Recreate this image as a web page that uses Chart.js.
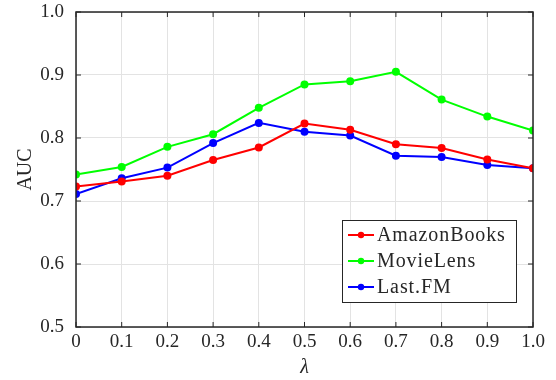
<!DOCTYPE html>
<html>
<head>
<meta charset="utf-8">
<script src="https://cdn.jsdelivr.net/npm/chart.js@4"></script>
<style>
  html, body { margin: 0; padding: 0; background: #fff; }
  #wrap { width: 556px; height: 380px; position: relative; }
</style>
</head>
<body>
<div id="wrap"><canvas id="c"></canvas></div>
<script>
const lambdas = [0, 0.1, 0.2, 0.3, 0.4, 0.5, 0.6, 0.7, 0.8, 0.9, 1.0];
const amazonBooks = [0.723, 0.731, 0.740, 0.765, 0.785, 0.823, 0.813, 0.790, 0.784, 0.766, 0.752];
const movieLens   = [0.742, 0.754, 0.786, 0.806, 0.848, 0.885, 0.890, 0.905, 0.861, 0.834, 0.812];
const lastFM      = [0.711, 0.736, 0.753, 0.792, 0.824, 0.810, 0.804, 0.772, 0.770, 0.757, 0.752];
const seriesNames = ["AmazonBooks", "MovieLens", "Last.FM"];
const seriesColors = ["#ff0000", "#00ff00", "#0000ff"];

const FONT = "'Liberation Serif', 'DejaVu Serif', serif";

function toPoints(vals) {
  return vals.map((v, i) => ({ x: lambdas[i], y: v }));
}

// box with inward ticks on all four sides
const frame = {
  id: "frame",
  afterDraw(chart) {
    const { ctx, chartArea: a, scales } = chart;
    ctx.save();
    ctx.strokeStyle = "#262626";
    ctx.lineWidth = 1.5;
    ctx.strokeRect(a.left, a.top, a.right - a.left, a.bottom - a.top);
    ctx.lineWidth = 1;
    const t = 5;
    scales.x.ticks.forEach(tk => {
      const px = scales.x.getPixelForValue(tk.value);
      ctx.beginPath();
      ctx.moveTo(px, a.bottom); ctx.lineTo(px, a.bottom - t);
      ctx.moveTo(px, a.top); ctx.lineTo(px, a.top + t);
      ctx.stroke();
    });
    scales.y.ticks.forEach(tk => {
      const py = scales.y.getPixelForValue(tk.value);
      ctx.beginPath();
      ctx.moveTo(a.left, py); ctx.lineTo(a.left + t, py);
      ctx.moveTo(a.right, py); ctx.lineTo(a.right - t, py);
      ctx.stroke();
    });
    ctx.restore();
  }
};

// legend box in the lower right
const boxLegend = {
  id: "boxLegend",
  afterDraw(chart) {
    const { ctx } = chart;
    const x0 = 342, y0 = 220, w = 174, h = 82;
    ctx.save();
    ctx.fillStyle = "#fff";
    ctx.fillRect(x0, y0, w, h);
    ctx.strokeStyle = "#262626";
    ctx.lineWidth = 1;
    ctx.strokeRect(x0 + 0.5, y0 + 0.5, w, h);
    ctx.font = "20px " + FONT;
    ctx.letterSpacing = "0.9px";
    ctx.textBaseline = "middle";
    seriesNames.forEach((name, i) => {
      const y = y0 + 15 + i * 26;
      ctx.strokeStyle = seriesColors[i];
      ctx.lineWidth = 2;
      ctx.beginPath();
      ctx.moveTo(x0 + 6, y); ctx.lineTo(x0 + 32, y);
      ctx.stroke();
      ctx.fillStyle = seriesColors[i];
      ctx.beginPath();
      ctx.arc(x0 + 19, y, 3.2, 0, Math.PI * 2);
      ctx.fill();
      ctx.fillStyle = "#262626";
      ctx.fillText(name, x0 + 35, y + 1);
    });
    ctx.restore();
  }
};

new Chart(document.getElementById("c"), {
  type: "line",
  data: {
    datasets: [amazonBooks, movieLens, lastFM].map((vals, i) => ({
      label: seriesNames[i],
      data: toPoints(vals),
      borderColor: seriesColors[i],
      backgroundColor: seriesColors[i],
      borderWidth: 2,
      pointRadius: 4,
      pointBorderWidth: 0,
      tension: 0
    }))
  },
  options: {
    responsive: true,
    maintainAspectRatio: false,
    animation: false,
    layout: { padding: { left: 0, right: 23, top: 12, bottom: 0 } },
    scales: {
      x: {
        type: "linear",
        min: 0, max: 1,
        afterFit(s) {
          s.height = 53;
          s.paddingLeft = 0; s.paddingRight = 0;
        },
        afterBuildTicks(s) { s.ticks = lambdas.map(v => ({ value: v })); },
        ticks: {
          font: { family: FONT, size: 19 },
          color: "#262626",
          padding: 4,
          maxRotation: 0,
          callback: v => (v === 0 ? "0" : v.toFixed(1))
        },
        grid: { color: "#e3e3e3", drawTicks: false },
        border: { display: false },
        title: {
          display: true, text: "λ",
          font: { family: FONT, size: 20, style: "italic" },
          color: "#262626", padding: { top: 0, bottom: 0 }
        }
      },
      y: {
        min: 0.5, max: 1.0,
        afterFit(s) {
          s.width = 76;
          s.paddingTop = 0; s.paddingBottom = 0;
        },
        ticks: {
          stepSize: 0.1,
          font: { family: FONT, size: 19 },
          color: "#262626",
          padding: 12,
          callback: v => v.toFixed(1)
        },
        grid: { color: "#e3e3e3", drawTicks: false },
        border: { display: false },
        title: {
          display: true, text: "AUC",
          font: { family: FONT, size: 20 },
          color: "#262626", padding: { top: 14, bottom: 0 }
        }
      }
    },
    plugins: {
      legend: { display: false },
      tooltip: { enabled: false }
    }
  },
  plugins: [frame, boxLegend]
});
</script>
</body>
</html>
